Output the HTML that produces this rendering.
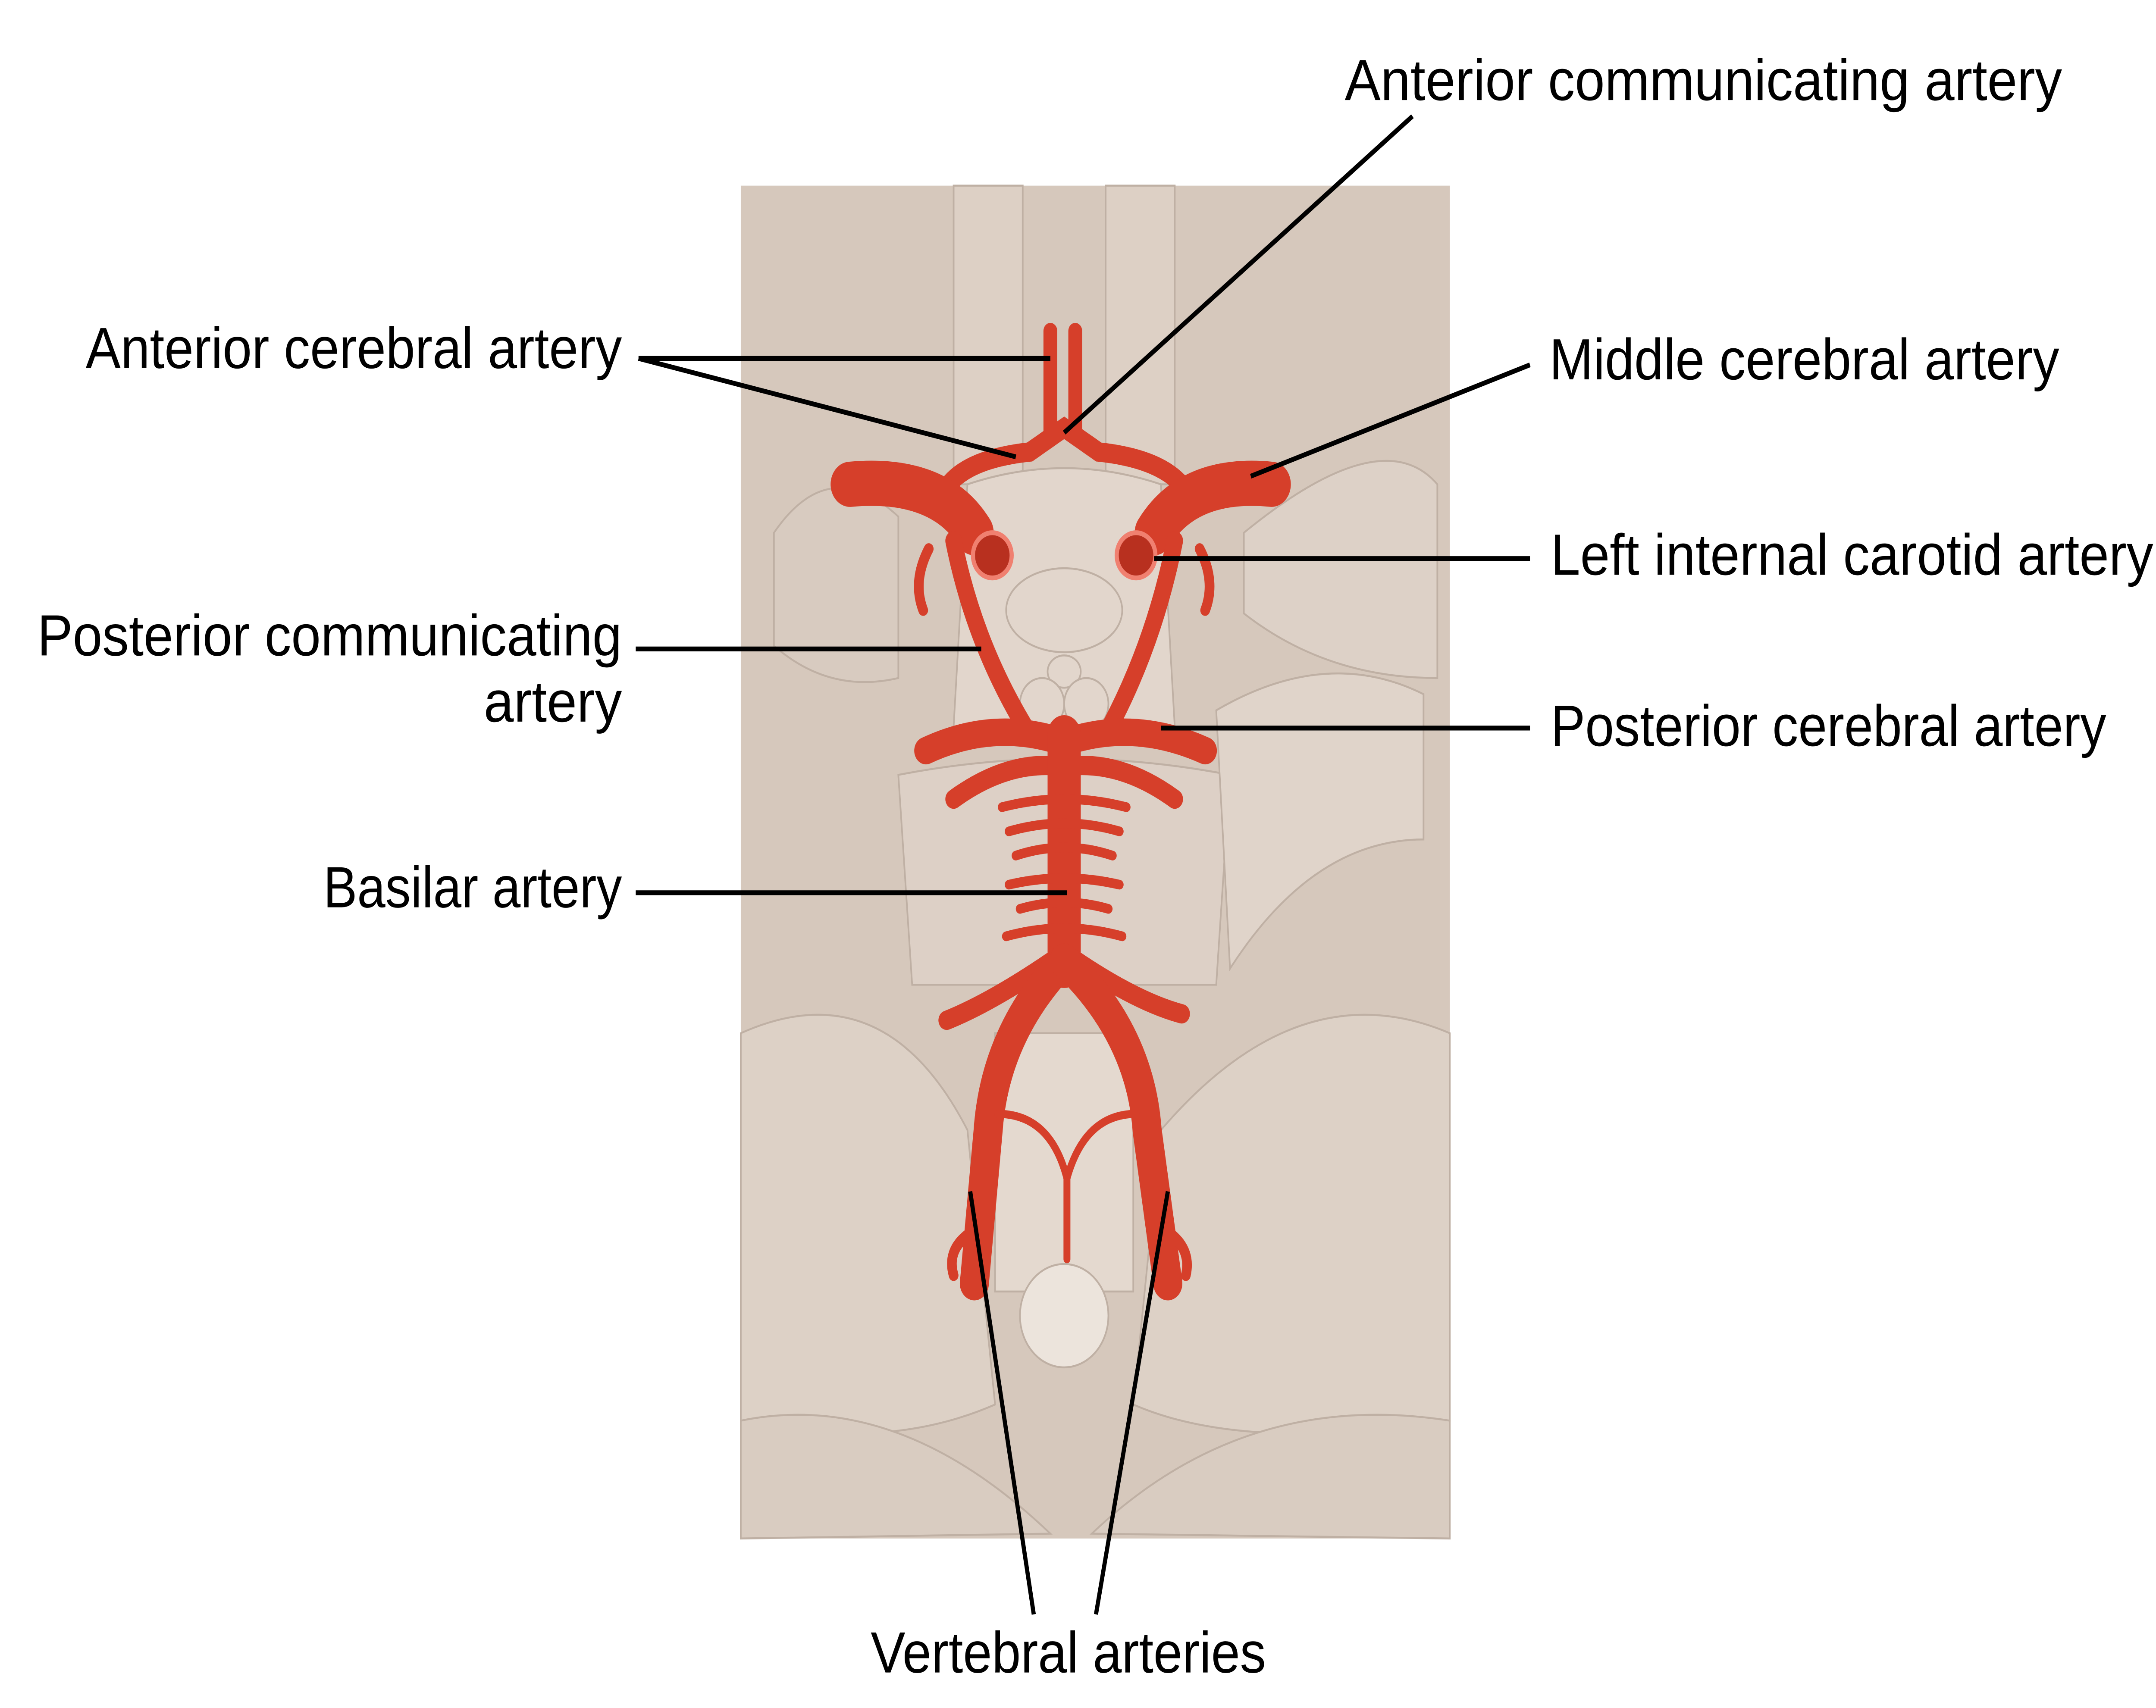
<!DOCTYPE html>
<html><head><meta charset="utf-8"><style>html,body{margin:0;padding:0;background:#fff;overflow:hidden;width:100%;height:100%}svg{display:block;position:fixed;left:0;top:0;width:100vw;height:100vh}</style></head>
<body>
<svg xmlns="http://www.w3.org/2000/svg" viewBox="0 0 1560 1058" preserveAspectRatio="none">
<rect x="536" y="115" width="513" height="838" fill="#d6c8bc"/>
<g fill="#e2d6cc" stroke="#bfb0a4" stroke-width="1.2">
<path d="M690 115 L690 300 L740 300 L740 115Z" fill="#ddd0c5"/>
<path d="M800 115 L800 300 L850 300 L850 115Z" fill="#ddd0c5"/>
<path d="M700 300 Q770 280 840 300 L850 450 L690 450Z"/>
<ellipse cx="770" cy="378" rx="42" ry="26"/>
<ellipse cx="770" cy="416" rx="12" ry="10"/>
<ellipse cx="754" cy="436" rx="16" ry="16"/>
<ellipse cx="786" cy="436" rx="16" ry="16"/>
<path d="M650 480 Q770 460 890 480 L880 610 L660 610Z" fill="#ddd0c6"/>
<path d="M880 440 Q960 400 1030 430 L1030 520 Q950 520 890 600Z" fill="#e0d4ca"/>
<path d="M536 640 Q640 600 700 700 L720 870 Q640 900 536 880Z" fill="#ddd1c6"/>
<path d="M1049 640 Q940 600 840 700 L820 870 Q900 900 1049 880Z" fill="#ddd1c6"/>
<path d="M536 880 Q650 860 760 950 L536 953Z" fill="#d9ccc1"/>
<path d="M1049 880 Q900 860 790 950 L1049 953Z" fill="#d9ccc1"/>
<path d="M720 640 L820 640 L820 800 L720 800Z" fill="#e4d9cf"/>
<circle cx="770" cy="815" r="32" fill="#ece4dc"/>
<path d="M900 330 Q1000 260 1040 300 L1040 420 Q960 420 900 380Z" fill="#ddd1c7"/>
<path d="M560 330 Q600 280 650 320 L650 420 Q600 430 560 400Z" fill="#d8cbc0"/>
</g>
<g fill="none" stroke="#d63f2a" stroke-linecap="round">
<path d="M760 205 L760 270 M778 205 L778 270" stroke-width="10"/>
<path d="M680 310 Q690 285 745 280 L770 265 L795 280 Q850 285 862 310" stroke-width="12"/>
<path d="M615 300 Q680 295 705 330" stroke-width="28"/>
<path d="M835 330 Q860 295 920 300" stroke-width="28"/>
<path d="M690 335 Q705 400 745 455" stroke-width="12"/>
<path d="M850 335 Q835 400 800 455" stroke-width="12"/>
<path d="M672 340 Q660 360 668 378 M868 340 Q880 360 872 378" stroke-width="7"/>
<path d="M670 465 Q720 445 770 460 Q820 445 872 465" stroke-width="17"/>
<path d="M690 495 Q730 470 770 475 Q810 470 850 495" stroke-width="12"/>
<path d="M770 455 L770 600" stroke-width="24"/>
<path d="M725 500 Q770 490 815 500 M730 515 Q770 505 810 515 M735 530 Q770 520 805 530 M730 548 Q770 540 810 548 M738 563 Q770 555 802 563 M728 580 Q770 570 812 580" stroke-width="6"/>
<path d="M770 590 Q720 620 685 632 M770 590 Q820 620 855 628" stroke-width="12"/>
<path d="M770 595 Q720 640 715 700 L705 795" stroke-width="21"/>
<path d="M770 595 Q825 640 830 700 L845 795" stroke-width="21"/>
<path d="M722 690 Q760 690 772 730 L772 780 M822 690 Q785 690 772 730" stroke-width="5"/>
<path d="M700 765 Q685 775 690 790 M848 765 Q862 775 858 790" stroke-width="7"/>
</g>
<circle cx="718" cy="344" r="14" fill="#b8301f" stroke="#f08070" stroke-width="3"/>
<circle cx="822" cy="344" r="14" fill="#b8301f" stroke="#f08070" stroke-width="3"/>
<g stroke="#000" stroke-width="3" fill="none">
<path d="M1022 72 L770 268"/>
<path d="M462 222 L760 222 M462 222 L735 283"/>
<path d="M1107 226 L905 295"/>
<path d="M1107 346 L835 346"/>
<path d="M460 402 L710 402"/>
<path d="M1107 451 L840 451"/>
<path d="M460 553 L772 553"/>
<path d="M748 1000 L702 738 M793 1000 L845 738"/>
</g>
<g font-family="Liberation Sans, sans-serif" font-size="36" fill="#000" lengthAdjust="spacingAndGlyphs">
<text x="973" y="62" textLength="519" lengthAdjust="spacingAndGlyphs">Anterior communicating artery</text>
<text x="62" y="228" textLength="388" lengthAdjust="spacingAndGlyphs">Anterior cerebral artery</text>
<text x="1121" y="235" textLength="369" lengthAdjust="spacingAndGlyphs">Middle cerebral artery</text>
<text x="1122" y="356" textLength="436" lengthAdjust="spacingAndGlyphs">Left internal carotid artery</text>
<text x="27" y="406" textLength="423" lengthAdjust="spacingAndGlyphs">Posterior communicating</text>
<text x="350" y="447" textLength="100" lengthAdjust="spacingAndGlyphs">artery</text>
<text x="1122" y="462" textLength="402" lengthAdjust="spacingAndGlyphs">Posterior cerebral artery</text>
<text x="234" y="562" textLength="216" lengthAdjust="spacingAndGlyphs">Basilar artery</text>
<text x="630" y="1036" textLength="286" lengthAdjust="spacingAndGlyphs">Vertebral arteries</text>
</g>
</svg>
</body></html>
